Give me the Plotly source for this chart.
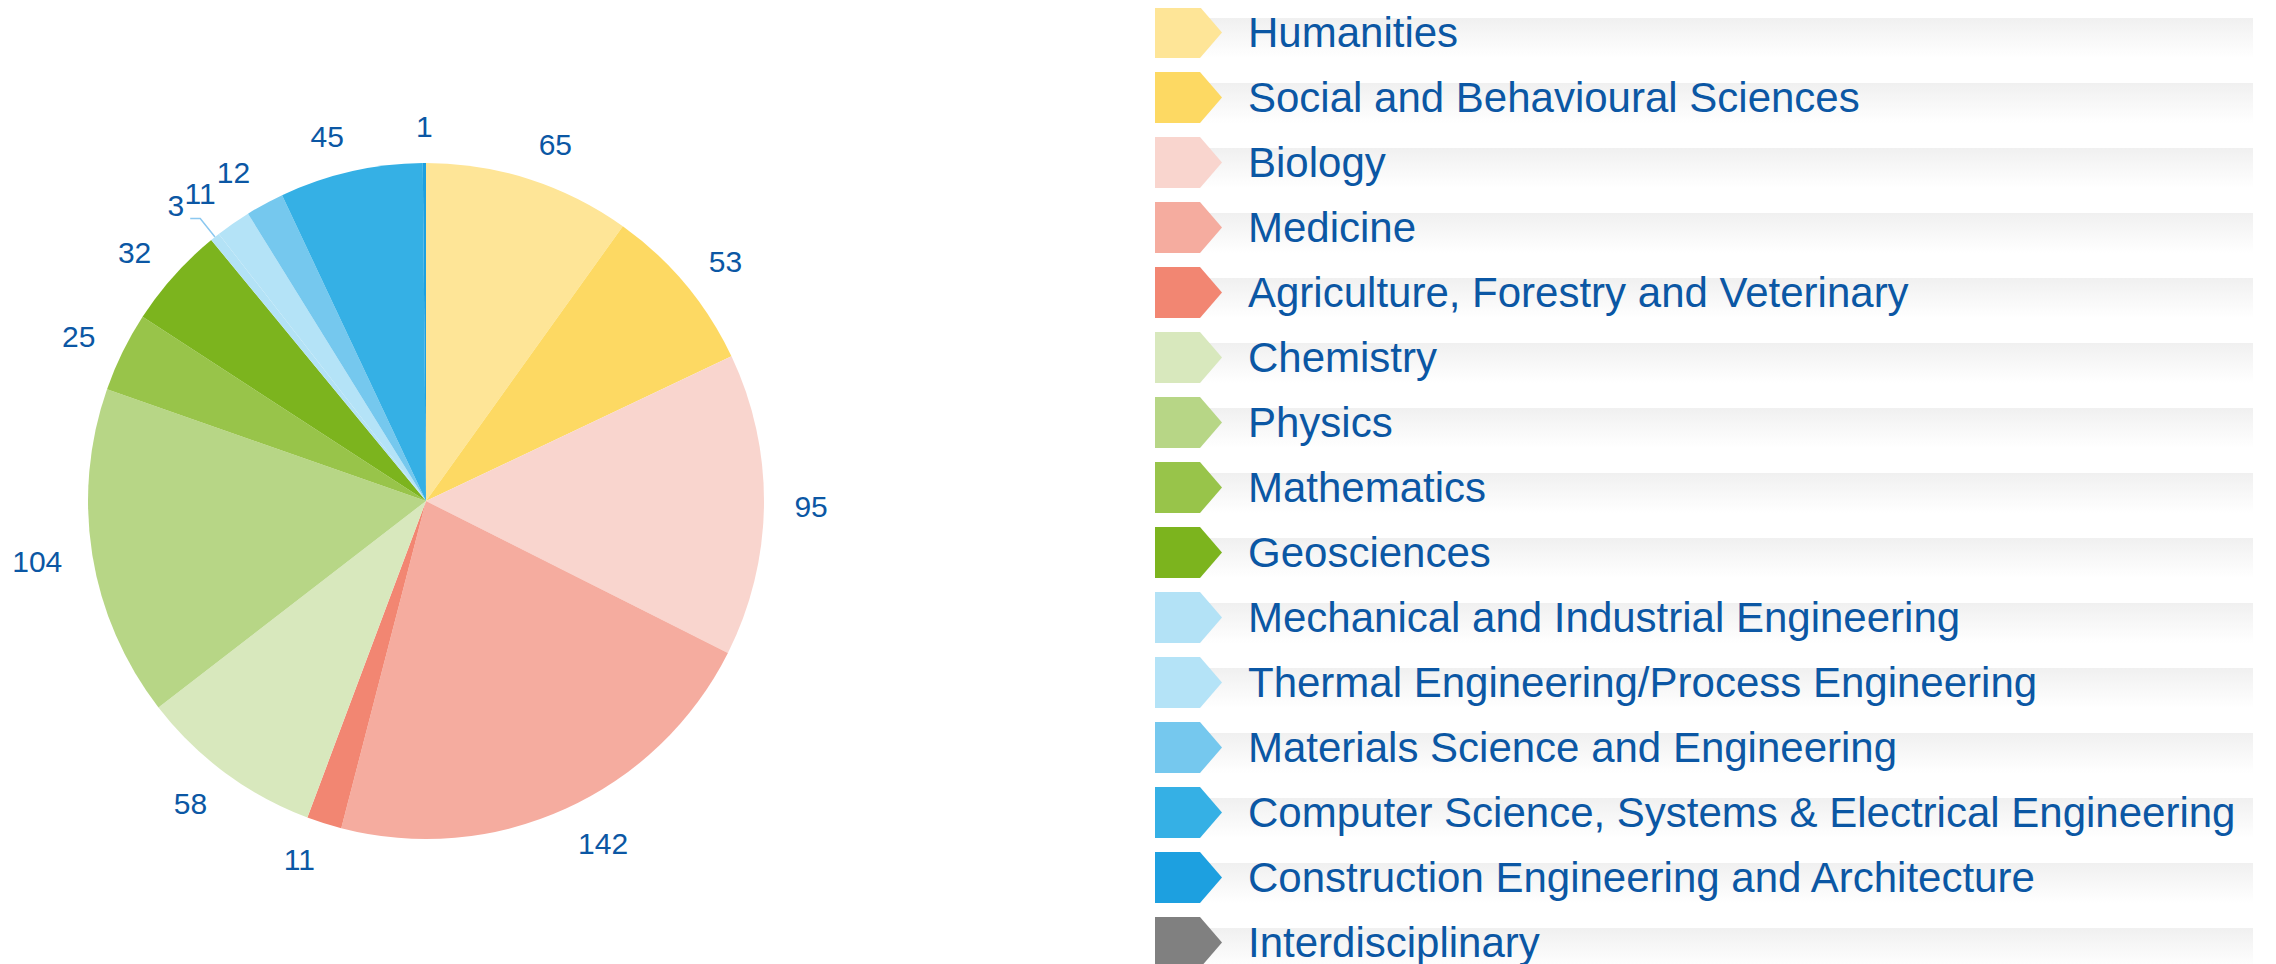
import numpy as np
import plotly.graph_objects as go

# ---------------- data ----------------
categories = [
    "Humanities",
    "Social and Behavioural Sciences",
    "Biology",
    "Medicine",
    "Agriculture, Forestry and Veterinary",
    "Chemistry",
    "Physics",
    "Mathematics",
    "Geosciences",
    "Mechanical and Industrial Engineering",
    "Thermal Engineering/Process Engineering",
    "Materials Science and Engineering",
    "Computer Science, Systems & Electrical Engineering",
    "Construction Engineering and Architecture",
    "Interdisciplinary",
]
values = [65, 53, 95, 142, 11, 58, 104, 25, 32, 3, 11, 12, 45, 1, 0]
colors = [
    "#FEE597", "#FDD963", "#F9D5CE", "#F5AC9F", "#F28672",
    "#D8E8BD", "#B7D686", "#98C44A", "#7CB41E", "#B3E2F6",
    "#B4E3F7", "#75C8EE", "#35B0E5", "#1DA0E0", "#808080",
]
connector_label = [False] * 9 + [True] + [False] * 5  # the "3" label uses a leader line

# ---------------- layout constants (page pixel coordinates) ----------------
W, H = 2276, 964
OFF = 8                             # default body margin of the html page
FW, FH = W - OFF, H - OFF           # figure size
CX, CY, R = 426, 501, 338           # pie centre / radius in page px
RMAX = 1.2                          # polar overlay radial range
LAB_RX, LAB_RY = 1.09, 1.11         # label anchor distance (in pie radii)
LAB_DROP = 4.0                      # label drop in px
TEXT_BLUE = "#0B57A4"
FONT = "Liberation Sans, Arial, sans-serif"


def fx(px):
    return (px - OFF) / FW


def fy(py):
    return (H - py) / FH


def to_polar(x, y):
    return float(np.hypot(x, y)), float(np.degrees(np.arctan2(x, y)) % 360)


fig = go.Figure()

# ---------------- pie ----------------
fig.add_trace(go.Pie(
    labels=categories, values=values, sort=False,
    direction="clockwise", rotation=0,
    marker=dict(colors=colors, line=dict(width=0)),
    textinfo="none", hoverinfo="label+value", showlegend=False,
    domain=dict(x=[fx(CX - R), fx(CX + R)], y=[fy(CY + R), fy(CY - R)]),
))

# ---------------- value labels on polar overlay ----------------
vals = np.array(values, dtype=float)
total = vals.sum()
cum = np.cumsum(vals)
mid = (cum - vals / 2) / total * 360.0

lab_r, lab_t, lab_txt, lab_pos = [], [], [], []
for i, v in enumerate(values):
    if v <= 0:
        continue
    th = np.radians(mid[i])
    if connector_label[i]:
        bx, by = 1.07 * np.sin(th), 1.07 * np.cos(th)
        rc, tc = to_polar(bx - 10.0 / R, by)
        fig.add_trace(go.Scatterpolar(
            r=[1.0, 1.07, rc], theta=[mid[i], mid[i], tc], mode="lines",
            line=dict(color="#8CC8F0", width=1.5), hoverinfo="skip",
            showlegend=False, subplot="polar", cliponaxis=False))
        rl, tl = to_polar(bx - 16.0 / R, by - 5.0 / R)
        lab_r.append(rl); lab_t.append(tl); lab_txt.append(str(v))
        lab_pos.append("top left")
    else:
        x = LAB_RX * np.sin(th)
        y = LAB_RY * np.cos(th) - LAB_DROP / R
        rl, tl = to_polar(x, y)
        lab_r.append(rl); lab_t.append(tl); lab_txt.append(str(v))
        if mid[i] > 357 or mid[i] < 3:
            lab_pos.append("middle center")
        elif mid[i] < 180:
            lab_pos.append("middle right")
        else:
            lab_pos.append("middle left")

fig.add_trace(go.Scatterpolar(
    r=lab_r, theta=lab_t, text=lab_txt, mode="text", textposition=lab_pos,
    textfont=dict(size=30, color=TEXT_BLUE, family=FONT),
    hoverinfo="skip", showlegend=False, subplot="polar", cliponaxis=False,
))

PR = R * RMAX
fig.update_layout(polar=dict(
    domain=dict(x=[fx(CX - PR), fx(CX + PR)], y=[fy(CY + PR), fy(CY - PR)]),
    bgcolor="rgba(0,0,0,0)",
    radialaxis=dict(visible=False, range=[0, RMAX]),
    angularaxis=dict(visible=False, direction="clockwise", rotation=90),
))

# ---------------- custom legend (page-pixel coordinate xy axes) ----------------
ROW0, ROWSTEP, MH = 7, 65, 51
MX0, MX1, MTIP = 1155, 1200, 1222
BAND_X1 = 2253
TEXT_X = 1246

shapes, annotations = [], []
for k, (name, col) in enumerate(zip(categories, colors)):
    top = ROW0 + ROWSTEP * k
    bot = top + MH
    ym = (top + bot) / 2
    # gradient band
    fig.add_trace(go.Scatter(
        x=[MX1 - 20, BAND_X1, BAND_X1, MX1 - 20, MX1 - 20],
        y=[top + 11, top + 11, bot, bot, top + 11],
        mode="lines", line=dict(width=0), fill="toself",
        fillgradient=dict(type="vertical",
                          colorscale=[[0, "#FFFFFF"], [1, "#F0F0F0"]]),
        hoverinfo="skip", showlegend=False, xaxis="x", yaxis="y"))
    shapes.append(dict(
        type="path", xref="x", yref="y",
        path=f"M {MX0},{top} L {MX1},{top} L {MTIP},{ym} L {MX1},{bot} L {MX0},{bot} Z",
        fillcolor=col, line=dict(width=0), layer="above"))
    annotations.append(dict(
        x=TEXT_X, y=ym, xref="x", yref="y", text=name, showarrow=False,
        xanchor="left", yanchor="middle",
        font=dict(size=42, color=TEXT_BLUE, family=FONT)))

fig.update_layout(
    width=FW, height=FH,
    margin=dict(l=0, r=0, t=0, b=0),
    paper_bgcolor="white", plot_bgcolor="rgba(0,0,0,0)",
    xaxis=dict(visible=False, range=[OFF, W], domain=[0, 1], fixedrange=True),
    yaxis=dict(visible=False, range=[H, OFF], domain=[0, 1], fixedrange=True),
    shapes=shapes, annotations=annotations, showlegend=False,
)

fig.write_html("out.html")
